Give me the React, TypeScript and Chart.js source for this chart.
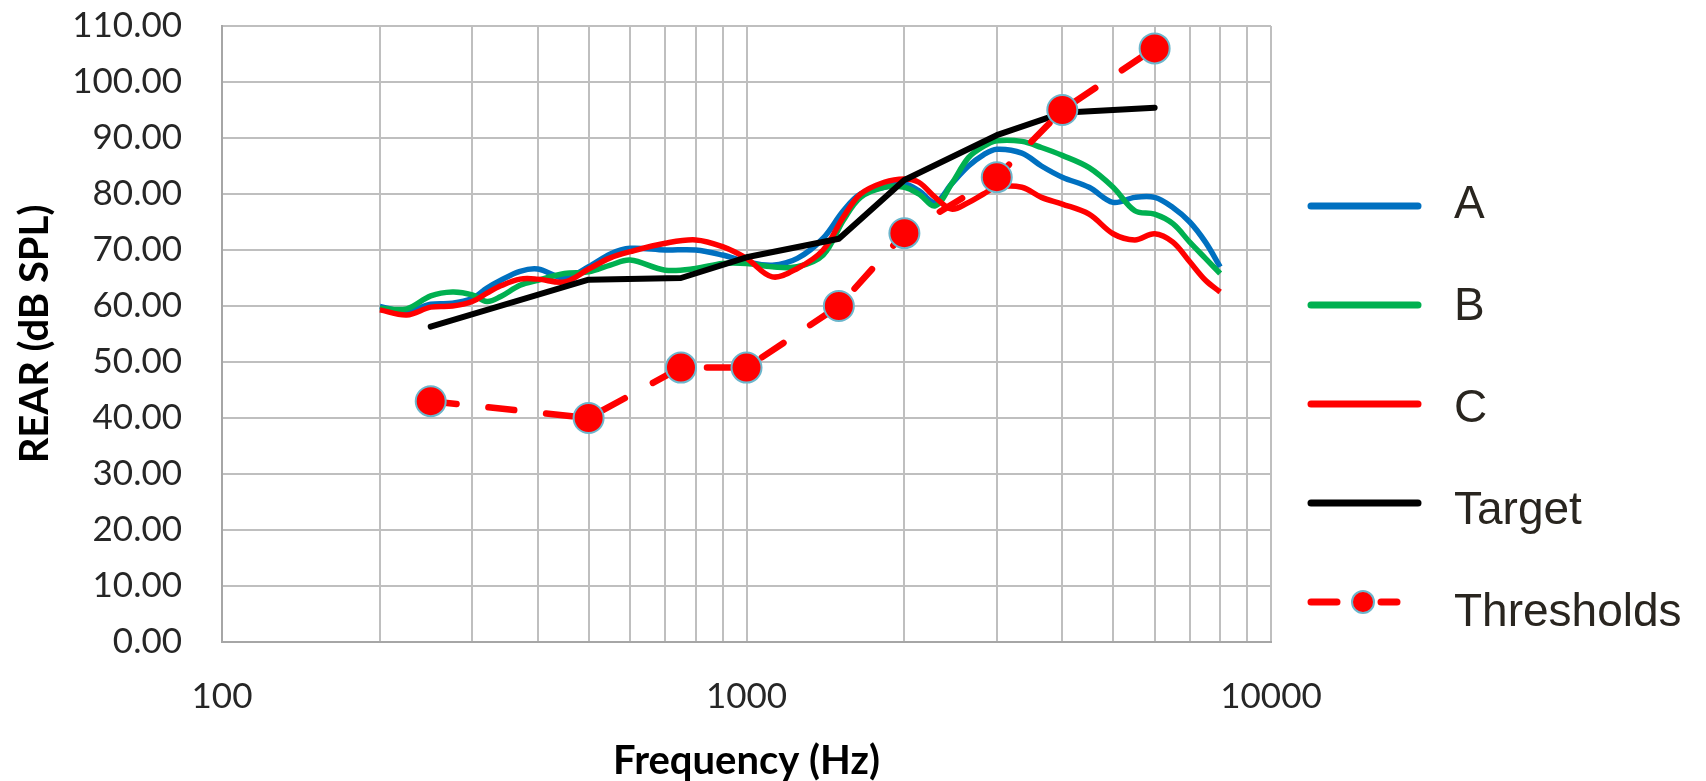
import React, { useEffect, useRef } from 'react';
import { Chart, registerables } from 'chart.js';

Chart.register(...registerables);

// ---- data ----
const curveFreqs = [200, 225, 250, 275, 300, 320, 340, 370, 400, 450, 500, 550, 600, 700, 800, 900, 1000, 1120, 1250, 1400, 1530, 1650, 1830, 2000, 2130, 2290, 2460, 2650, 2830, 3000, 3350, 3650, 4000, 4500, 5000, 5500, 6000, 6500, 7000, 7500, 8000];
const seriesA = [59.9, 59.0, 60.3, 60.5, 61.4, 63.2, 64.6, 66.2, 66.6, 65.0, 67.0, 69.3, 70.3, 70.0, 70.0, 69.1, 67.9, 67.3, 68.5, 72.1, 77.0, 80.0, 81.2, 81.8, 80.6, 78.5, 81.8, 85.0, 87.0, 88.0, 87.3, 85.0, 83.0, 81.2, 78.5, 79.4, 79.4, 77.6, 75.0, 71.4, 67.0];
const seriesB = [59.6, 59.5, 61.8, 62.5, 62.0, 60.8, 61.7, 63.7, 64.6, 65.8, 66.1, 67.3, 68.2, 66.4, 66.7, 67.6, 67.6, 67.0, 67.0, 69.1, 75.3, 79.4, 81.2, 81.2, 80.0, 77.9, 81.8, 86.5, 88.5, 89.5, 89.4, 88.3, 86.9, 84.7, 81.2, 77.0, 76.4, 74.7, 71.4, 68.5, 65.8];
const seriesC = [59.3, 58.4, 59.8, 60.0, 60.8, 62.3, 63.6, 64.8, 64.8, 64.3, 66.6, 68.6, 69.7, 71.2, 71.8, 70.6, 68.5, 65.2, 66.7, 70.0, 75.9, 80.0, 82.1, 82.7, 82.1, 79.4, 77.3, 78.5, 80.0, 81.2, 81.2, 79.4, 78.2, 76.4, 72.9, 71.8, 72.9, 71.4, 67.9, 64.6, 62.5];
const targetFreqs = [250, 500, 750, 1000, 1500, 2000, 3000, 4000, 6000];
const targetValues = [56.3, 64.7, 65.0, 68.7, 72.0, 82.5, 90.5, 94.5, 95.4];
const thresholdFreqs = [250, 500, 750, 1000, 1500, 2000, 3000, 4000, 6000];
const thresholdValues = [43, 40, 49, 49, 60, 73, 83, 95, 106];

const xGridValues = [100, 200, 300, 400, 500, 600, 700, 800, 900, 1000, 2000, 3000, 4000, 5000, 6000, 7000, 8000, 9000, 10000];
const xLabelValues = [100, 1000, 10000];
const seriesLabels = ['A', 'B', 'C', 'Target', 'Thresholds'];

const pts = (xs: number[], ys: number[]) => xs.map((x, i) => ({ x, y: ys[i] }));

const TICK_FONT = { family: 'Lato, "Open Sans", sans-serif', size: 35 };
const TITLE_FONT = { family: 'Lato, "Open Sans", sans-serif', size: 40, weight: 'bold' as const, lineHeight: 1.0 };
const TEXT_COLOR = '#262626';

const sideLegend = {
  id: 'sideLegend',
  afterDraw(chart: any) {
    const ctx = chart.ctx as CanvasRenderingContext2D;
    const lineY0 = 206;
    const lineStep = 99;
    const textY0 = 218;
    const textStep = 102;
    ctx.save();
    chart.data.datasets.forEach((ds: any, i: number) => {
      const y = lineY0 + i * lineStep;
      ctx.strokeStyle = ds.borderColor;
      ctx.lineWidth = 7;
      ctx.lineCap = 'round';
      ctx.setLineDash([]);
      if (ds.pointRadius > 0) {
        ctx.beginPath();
        ctx.moveTo(1311, y);
        ctx.lineTo(1337, y);
        ctx.moveTo(1381, y);
        ctx.lineTo(1397, y);
        ctx.stroke();
        ctx.beginPath();
        ctx.arc(1363, y, 11, 0, Math.PI * 2);
        ctx.fillStyle = ds.pointBackgroundColor;
        ctx.fill();
        ctx.lineWidth = 2;
        ctx.strokeStyle = ds.pointBorderColor;
        ctx.stroke();
      } else {
        ctx.beginPath();
        ctx.moveTo(1311, y);
        ctx.lineTo(1418, y);
        ctx.stroke();
      }
      ctx.fillStyle = '#29251f';
      ctx.font = '46px "Liberation Sans", Arial, sans-serif';
      ctx.textAlign = 'left';
      ctx.textBaseline = 'alphabetic';
      ctx.fillText(ds.label, 1454, textY0 + i * textStep);
    });
    ctx.restore();
  },
};

export default function App() {
  const ref = useRef<HTMLCanvasElement>(null);

  useEffect(() => {
    if (!ref.current) return;
    const chart = new Chart(ref.current, {
      type: 'line',
      data: {
        datasets: [
          {
            label: seriesLabels[0],
            data: pts(curveFreqs, seriesA),
            borderColor: '#0070c0',
            borderWidth: 5.5,
            pointRadius: 0,
            tension: 0.35,
            order: 4,
          },
          {
            label: seriesLabels[1],
            data: pts(curveFreqs, seriesB),
            borderColor: '#00b050',
            borderWidth: 5.5,
            pointRadius: 0,
            tension: 0.35,
            order: 3,
          },
          {
            label: seriesLabels[2],
            data: pts(curveFreqs, seriesC),
            borderColor: '#ff0000',
            borderWidth: 5.5,
            pointRadius: 0,
            tension: 0.35,
            order: 2,
          },
          {
            label: seriesLabels[3],
            data: pts(targetFreqs, targetValues),
            borderColor: '#000000',
            borderWidth: 6,
            pointRadius: 0,
            tension: 0,
            borderCapStyle: 'round',
            borderJoinStyle: 'round',
            order: 1,
          },
          {
            label: seriesLabels[4],
            data: pts(thresholdFreqs, thresholdValues),
            borderColor: '#ff0000',
            borderWidth: 6.5,
            borderDash: [26, 32],
            borderCapStyle: 'round',
            pointRadius: 15,
            pointHoverRadius: 15,
            pointBackgroundColor: '#ff0000',
            pointBorderColor: '#6cb6cc',
            pointBorderWidth: 2,
            tension: 0,
            order: 0,
          },
        ],
      },
      options: {
        responsive: false,
        animation: false,
        devicePixelRatio: 1,
        layout: { padding: { left: 0, top: 26, right: 435, bottom: 0 } },
        plugins: {
          legend: { display: false },
          tooltip: { enabled: false },
        },
        scales: {
          x: {
            type: 'logarithmic',
            min: 100,
            max: 10000,
            afterBuildTicks: (scale: any) => {
              scale.ticks = xGridValues.map((v) => ({ value: v, major: xLabelValues.includes(v) }));
            },
            afterFit: (scale: any) => {
              scale.height = 139;
              scale.paddingLeft = 0;
              scale.paddingRight = 0;
            },
            ticks: {
              autoSkip: false,
              maxRotation: 0,
              minRotation: 0,
              padding: 34,
              font: TICK_FONT,
              color: TEXT_COLOR,
              callback: (value: any) => (xLabelValues.includes(Number(value)) ? String(value) : ''),
            },
            grid: { color: '#bfbfbf', lineWidth: 2, drawTicks: false },
            border: { color: '#a6a6a6', width: 2 },
            title: {
              display: true,
              text: 'Frequency (Hz)',
              font: TITLE_FONT,
              color: '#000000',
              padding: { top: 0, bottom: 0 },
            },
          },
          y: {
            type: 'linear',
            min: 0,
            max: 110,
            afterFit: (scale: any) => {
              scale.width = 222;
              scale.paddingTop = 0;
              scale.paddingBottom = 0;
            },
            ticks: {
              stepSize: 10,
              padding: 40,
              font: TICK_FONT,
              color: TEXT_COLOR,
              callback: (value: any) => Number(value).toFixed(2),
            },
            grid: { color: '#bfbfbf', lineWidth: 2, drawTicks: false },
            border: { color: '#a6a6a6', width: 2 },
            title: {
              display: true,
              text: 'REAR (dB SPL)',
              font: TITLE_FONT,
              color: '#000000',
              padding: { top: 15, bottom: 0 },
            },
          },
        },
      },
      plugins: [sideLegend],
    } as any);
    return () => chart.destroy();
  }, []);

  return (
    <div style={{ position: 'fixed', left: 0, top: 0, width: 1706, height: 781, background: '#ffffff' }}>
      <canvas ref={ref} width={1706} height={781} style={{ width: 1706, height: 781, display: 'block' }} />
    </div>
  );
}
